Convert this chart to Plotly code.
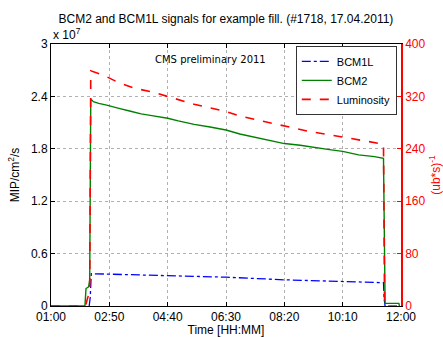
import plotly.graph_objects as go

DAY = "2011-04-17 "

# BCM2 signal (x 10^7 MIP/cm^2/s)
bcm2_time = ["01:00", "02:04", "02:06", "02:11", "02:13", "02:15", "02:20", "02:30", "02:45",
             "03:00", "03:10", "03:30", "03:50", "04:10", "04:40", "05:00", "05:30", "06:00",
             "06:30", "06:56", "07:20", "07:50", "08:20", "08:50", "09:20", "09:45", "10:10",
             "10:40", "11:10", "11:27", "11:29", "11:30", "11:56", "11:57"]
bcm2_vals = [0, 0, 0.20, 0.22, 0.30, 2.37, 2.34, 2.32, 2.30,
             2.28, 2.26, 2.23, 2.20, 2.18, 2.15, 2.12, 2.08, 2.05,
             2.015, 1.97, 1.94, 1.90, 1.86, 1.84, 1.81, 1.79, 1.77,
             1.73, 1.71, 1.69, 0.60, 0.03, 0.03, 0]

# BCM1L signal (x 10^7 MIP/cm^2/s)
bcm1l_time = ["02:12", "02:14", "02:16", "02:50", "04:40", "06:30", "08:20", "10:10", "11:27", "11:28", "11:30"]
bcm1l_vals = [0, 0.10, 0.37, 0.365, 0.345, 0.33, 0.30, 0.28, 0.267, 0.10, 0]

# Luminosity ((ub*s)^-1)
lumi_time = ["01:00", "02:05", "02:10", "02:13", "02:15", "02:40", "03:10", "03:40", "04:10",
             "04:40", "05:30", "06:30", "06:56", "07:40", "08:20", "09:10", "10:10", "10:50",
             "11:27", "11:29", "12:00"]
lumi_vals = [0, 0, 15, 30, 359, 352, 340, 332, 327,
             320, 308, 297, 290, 282, 275, 266, 258, 252,
             247, 0, 0]

left_ticks = [0, 0.6, 1.2, 1.8, 2.4, 3]
right_ticks = [0, 80, 160, 240, 320, 400]

FONT = "Liberation Sans, Arial, sans-serif"

fig = go.Figure()
fig.add_trace(go.Scatter(x=[DAY + t for t in bcm1l_time], y=bcm1l_vals, mode="lines", name="BCM1L",
                         line=dict(color="#0000ff", width=1.3, dash="dashdot")))
fig.add_trace(go.Scatter(x=[DAY + t for t in bcm2_time], y=bcm2_vals, mode="lines", name="BCM2",
                         line=dict(color="#008000", width=1.4)))
fig.add_trace(go.Scatter(x=[DAY + t for t in lumi_time], y=lumi_vals, mode="lines", name="Luminosity",
                         yaxis="y2", line=dict(color="#ff0000", width=1.6, dash="dash")))

fig.update_layout(
    width=443, height=337,
    margin=dict(l=51, r=42, t=44, b=31, autoexpand=False),
    paper_bgcolor="white", plot_bgcolor="white",
    font=dict(family=FONT, size=12, color="black"),
    showlegend=True,
    title=dict(text="BCM2 and BCM1L signals for example fill. (#1718, 17.04.2011)",
               x=0.51, xanchor="center", y=0.945, yanchor="middle",
               font=dict(family=FONT, size=12, color="black")),
    legend=dict(x=0.988, xanchor="right", y=0.993, yanchor="top",
                bgcolor="white", bordercolor="#333333", borderwidth=1,
                font=dict(family=FONT, size=11), tracegroupgap=0, itemwidth=30),
    xaxis=dict(type="date", range=[DAY + "01:00", DAY + "12:00"],
               tick0=DAY + "01:00", dtick=110 * 60 * 1000, tickformat="%H:%M",
               ticks="inside", ticklen=4, tickcolor="black",
               showline=True, linecolor="black", linewidth=1, mirror="ticks",
               showgrid=True, gridcolor="#b0b0b0", griddash="dot", gridwidth=1,
               zeroline=False, tickfont=dict(size=12),
               title=dict(text="Time [HH:MM]", standoff=2, font=dict(size=12)),
               automargin=False),
    yaxis=dict(range=[0, 3], tickvals=left_ticks, ticktext=["0", "0.6", "1.2", "1.8", "2.4", "3"],
               ticks="inside", ticklen=4, tickcolor="black",
               showline=True, linecolor="black", linewidth=1,
               showgrid=True, gridcolor="#b0b0b0", griddash="dot", gridwidth=1,
               zeroline=False, tickfont=dict(size=12),
               title=dict(text="MIP/cm<sup>2</sup>/s", standoff=8, font=dict(size=12)),
               automargin=False),
    yaxis2=dict(range=[0, 400], tickvals=right_ticks, overlaying="y", side="right",
                ticks="inside", ticklen=4, tickcolor="#ff0000",
                showline=True, linecolor="#ff0000", linewidth=1.5,
                showgrid=False, zeroline=False,
                tickfont=dict(size=12, color="#ff0000"),
                title=dict(text="(ub*s)<sup>-1</sup>", standoff=8, font=dict(size=12, color="#ff0000")),
                automargin=False),
    annotations=[
        dict(text="x 10<sup>7</sup>", xref="paper", yref="paper", x=0.0, y=1.0,
             xanchor="left", yanchor="bottom", showarrow=False, font=dict(family=FONT, size=12)),
        dict(text="CMS preliminary 2011", xref="paper", yref="paper", x=0.455, y=0.94,
             xanchor="center", yanchor="middle", showarrow=False,
             font=dict(family="DejaVu Sans", size=10)),
    ],
)

fig.write_html("out.html", config={"displayModeBar": False},
               post_script="document.body.style.margin='0';document.body.style.overflow='hidden';")
